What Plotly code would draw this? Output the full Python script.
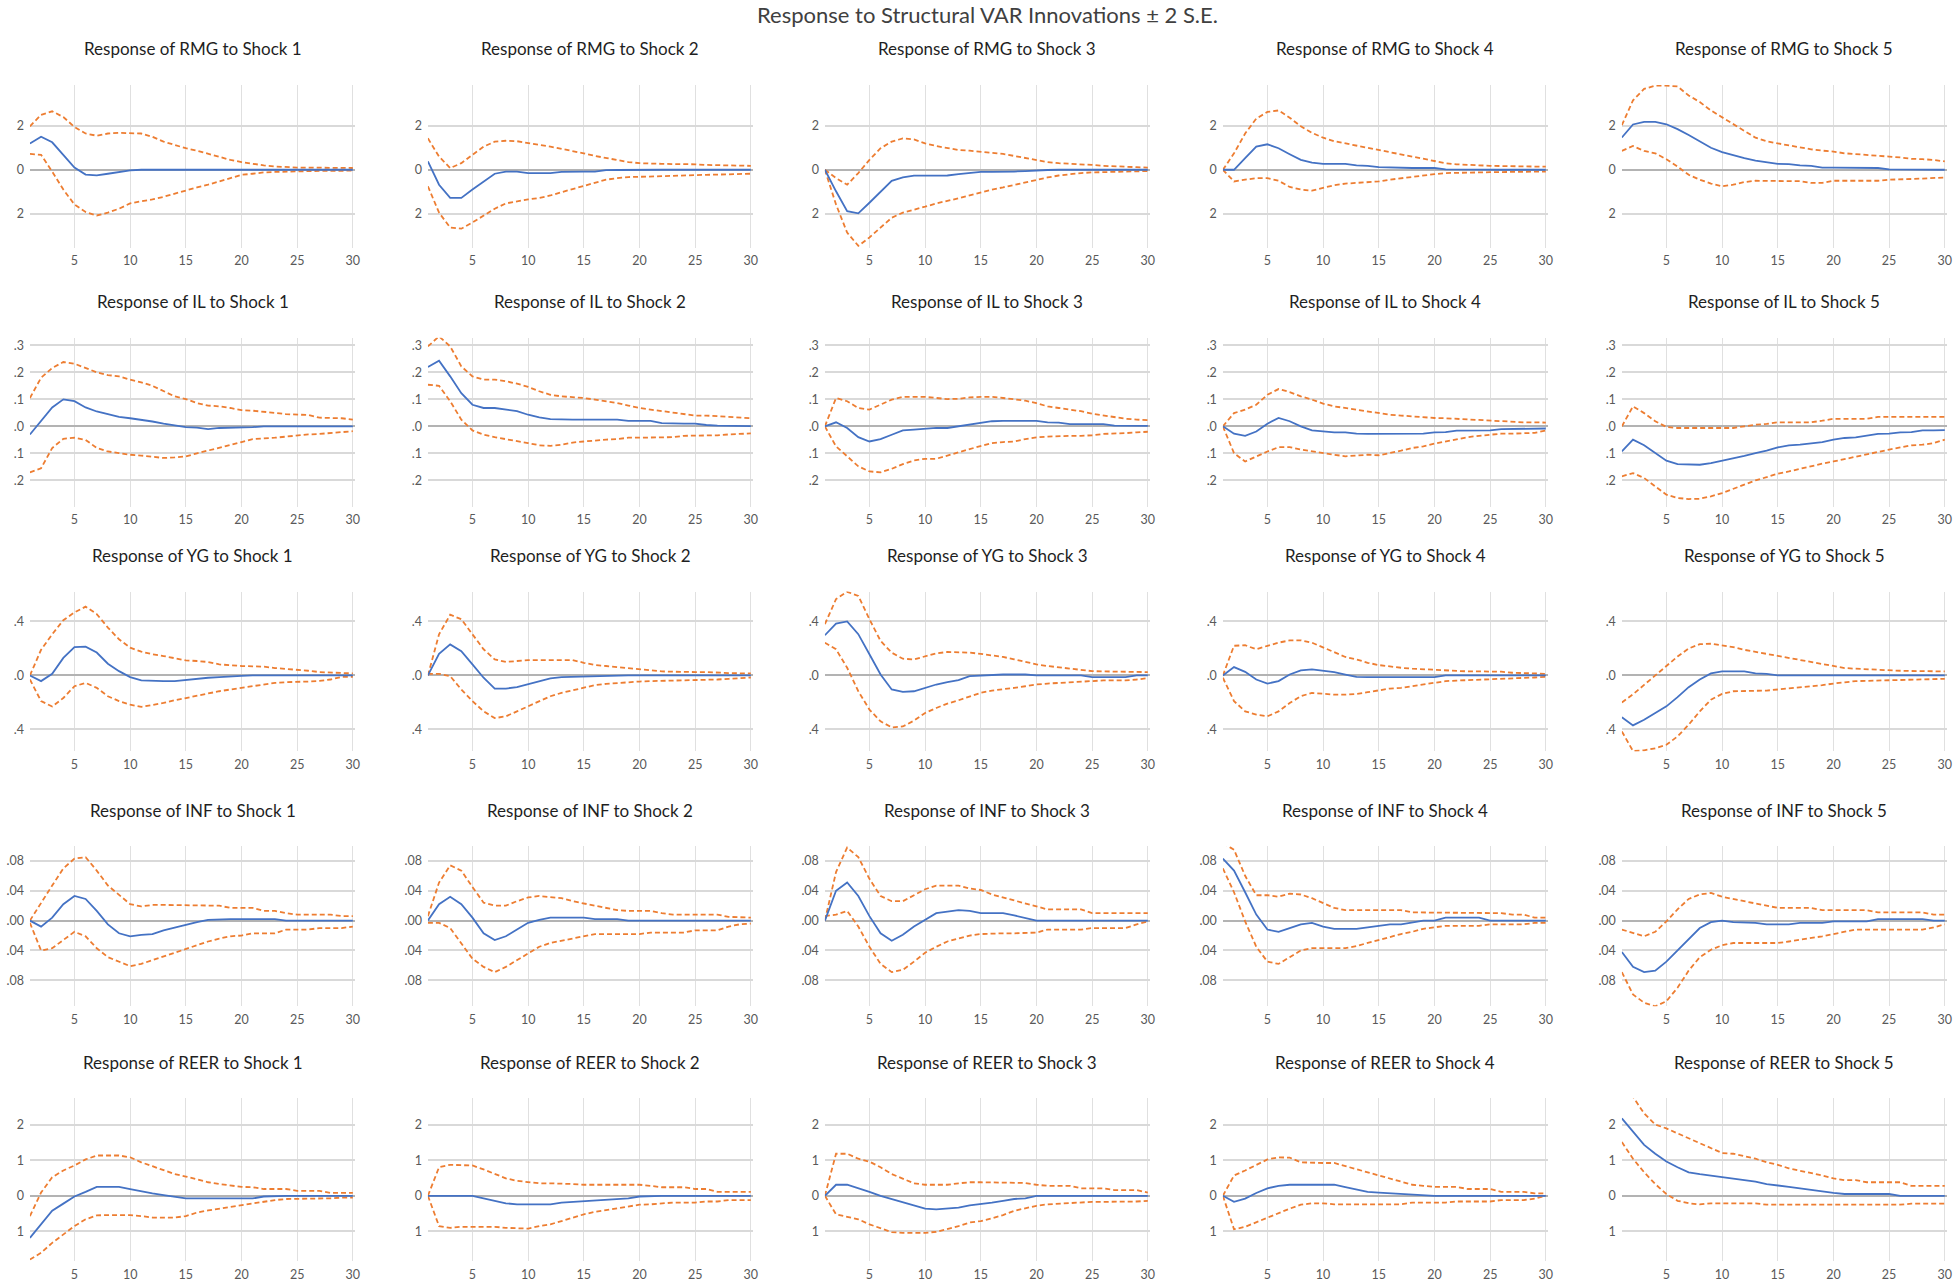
import plotly.graph_objects as go

# ---------------- data (periods 1..30) ----------------
periods = list(range(1, 31))
variables = ["RMG", "IL", "YG", "INF", "REER"]
shocks = [1, 2, 3, 4, 5]

rmg1_irf = [1.2, 1.5, 1.25, 0.65, 0.1, -0.22, -0.25, -0.18, -0.1, -0.03, 0, 0, 0, 0, 0, 0, 0, 0, 0, 0, 0, 0, 0, 0, 0, 0, 0, 0, 0, 0]
rmg1_hi = [1.98, 2.5, 2.66, 2.4, 1.95, 1.65, 1.55, 1.65, 1.68, 1.68, 1.65, 1.5, 1.28, 1.13, 0.98, 0.87, 0.72, 0.6, 0.45, 0.35, 0.26, 0.2, 0.15, 0.12, 0.1, 0.1, 0.1, 0.09, 0.08, 0.08]
rmg1_lo = [0.72, 0.68, -0.08, -0.9, -1.58, -1.92, -2.08, -1.95, -1.77, -1.53, -1.43, -1.35, -1.23, -1.08, -0.93, -0.8, -0.68, -0.53, -0.38, -0.23, -0.18, -0.12, -0.1, -0.08, -0.07, -0.06, -0.05, -0.05, -0.05, -0.04]

rmg2_irf = [0.38, -0.68, -1.28, -1.28, -0.9, -0.53, -0.18, -0.08, -0.08, -0.15, -0.15, -0.15, -0.1, -0.08, -0.08, -0.08, -0.02, -0.01, 0, 0, 0, 0, 0, 0, 0, 0, 0, 0, 0, 0]
rmg2_hi = [1.43, 0.6, 0.08, 0.3, 0.68, 1.05, 1.28, 1.32, 1.3, 1.2, 1.13, 1.05, 0.95, 0.87, 0.75, 0.63, 0.53, 0.42, 0.35, 0.3, 0.27, 0.27, 0.26, 0.26, 0.25, 0.22, 0.2, 0.2, 0.19, 0.18]
rmg2_lo = [-0.75, -1.95, -2.63, -2.68, -2.4, -2.1, -1.77, -1.53, -1.43, -1.35, -1.28, -1.17, -1.02, -0.87, -0.72, -0.57, -0.45, -0.38, -0.33, -0.32, -0.3, -0.28, -0.27, -0.26, -0.25, -0.23, -0.22, -0.2, -0.2, -0.18]

rmg3_irf = [0, -0.98, -1.88, -1.98, -1.5, -0.98, -0.5, -0.35, -0.27, -0.27, -0.26, -0.26, -0.2, -0.15, -0.1, -0.1, -0.1, -0.08, -0.06, -0.02, -0.01, 0, 0, 0, 0, 0, 0, 0, 0, 0]
rmg3_hi = [0, -0.38, -0.68, -0.15, 0.45, 0.98, 1.28, 1.43, 1.38, 1.2, 1.08, 0.98, 0.9, 0.87, 0.83, 0.78, 0.72, 0.63, 0.53, 0.45, 0.35, 0.3, 0.28, 0.25, 0.22, 0.18, 0.15, 0.13, 0.12, 0.1]
rmg3_lo = [0, -1.58, -2.86, -3.46, -3.08, -2.63, -2.18, -1.95, -1.83, -1.68, -1.53, -1.43, -1.3, -1.16, -1.02, -0.9, -0.8, -0.68, -0.56, -0.45, -0.35, -0.26, -0.2, -0.15, -0.12, -0.1, -0.09, -0.08, -0.07, -0.06]

rmg4_irf = [0, 0, 0.53, 1.05, 1.16, 0.98, 0.71, 0.45, 0.33, 0.27, 0.27, 0.27, 0.2, 0.18, 0.12, 0.1, 0.1, 0.08, 0.08, 0.08, 0.02, 0.01, 0, 0, 0, 0, 0, 0, 0, 0]
rmg4_hi = [0, 0.75, 1.65, 2.33, 2.63, 2.7, 2.37, 1.98, 1.68, 1.46, 1.3, 1.2, 1.1, 1.0, 0.9, 0.8, 0.71, 0.6, 0.5, 0.4, 0.3, 0.25, 0.22, 0.2, 0.18, 0.17, 0.16, 0.15, 0.15, 0.14]
rmg4_lo = [0, -0.53, -0.45, -0.38, -0.38, -0.5, -0.78, -0.9, -0.95, -0.83, -0.7, -0.63, -0.6, -0.57, -0.53, -0.45, -0.38, -0.33, -0.27, -0.2, -0.15, -0.13, -0.12, -0.12, -0.11, -0.1, -0.1, -0.09, -0.09, -0.08]

rmg5_irf = [1.47, 2.06, 2.18, 2.18, 2.07, 1.85, 1.58, 1.28, 1.0, 0.8, 0.65, 0.53, 0.42, 0.33, 0.27, 0.26, 0.2, 0.18, 0.1, 0.1, 0.1, 0.09, 0.08, 0.08, 0.02, 0.01, 0, 0, 0, 0]
rmg5_hi = [2.03, 3.16, 3.68, 3.83, 3.83, 3.79, 3.38, 3.08, 2.7, 2.4, 2.1, 1.77, 1.46, 1.3, 1.2, 1.1, 1.0, 0.93, 0.87, 0.83, 0.75, 0.72, 0.69, 0.65, 0.6, 0.56, 0.5, 0.48, 0.45, 0.38]
rmg5_lo = [0.86, 1.08, 0.86, 0.75, 0.48, 0.15, -0.23, -0.45, -0.63, -0.75, -0.68, -0.56, -0.5, -0.5, -0.5, -0.5, -0.52, -0.6, -0.6, -0.5, -0.5, -0.5, -0.5, -0.5, -0.45, -0.45, -0.42, -0.4, -0.38, -0.35]

il1_irf = [-0.03, 0.02, 0.07, 0.1, 0.093, 0.07, 0.055, 0.045, 0.035, 0.03, 0.025, 0.018, 0.01, 0.003, -0.003, -0.005, -0.01, -0.006, -0.005, -0.005, -0.003, 0, 0, 0, 0, 0, 0, 0, 0, 0]
il1_hi = [0.105, 0.18, 0.216, 0.238, 0.232, 0.216, 0.2, 0.19, 0.185, 0.173, 0.163, 0.15, 0.132, 0.111, 0.101, 0.086, 0.077, 0.074, 0.068, 0.06, 0.058, 0.055, 0.05, 0.045, 0.044, 0.042, 0.032, 0.03, 0.03, 0.025]
il1_lo = [-0.17, -0.155, -0.08, -0.046, -0.042, -0.05, -0.08, -0.093, -0.099, -0.105, -0.108, -0.113, -0.117, -0.115, -0.111, -0.1, -0.09, -0.08, -0.07, -0.058, -0.047, -0.045, -0.042, -0.038, -0.033, -0.03, -0.028, -0.025, -0.022, -0.018]

il2_irf = [0.22, 0.243, 0.185, 0.123, 0.08, 0.068, 0.068, 0.062, 0.056, 0.043, 0.033, 0.027, 0.025, 0.025, 0.025, 0.025, 0.025, 0.025, 0.02, 0.02, 0.02, 0.012, 0.01, 0.01, 0.01, 0.005, 0.003, 0.002, 0.001, 0.001]
il2_hi = [0.296, 0.333, 0.296, 0.222, 0.185, 0.173, 0.173, 0.167, 0.158, 0.146, 0.13, 0.117, 0.111, 0.109, 0.105, 0.099, 0.093, 0.086, 0.077, 0.068, 0.062, 0.056, 0.052, 0.045, 0.04, 0.04, 0.038, 0.035, 0.032, 0.03]
il2_lo = [0.154, 0.15, 0.093, 0.025, -0.015, -0.031, -0.04, -0.047, -0.053, -0.062, -0.07, -0.072, -0.068, -0.06, -0.056, -0.052, -0.049, -0.047, -0.042, -0.042, -0.042, -0.042, -0.04, -0.035, -0.035, -0.034, -0.033, -0.03, -0.028, -0.026]

il3_irf = [0, 0.015, -0.006, -0.04, -0.056, -0.047, -0.031, -0.015, -0.012, -0.009, -0.006, -0.006, 0, 0.006, 0.012, 0.019, 0.02, 0.02, 0.02, 0.02, 0.015, 0.014, 0.008, 0.008, 0.008, 0.008, 0.003, 0.002, 0.002, 0.002]
il3_hi = [0, 0.105, 0.093, 0.068, 0.062, 0.08, 0.099, 0.109, 0.109, 0.109, 0.105, 0.101, 0.102, 0.107, 0.109, 0.109, 0.105, 0.099, 0.095, 0.086, 0.074, 0.068, 0.062, 0.056, 0.047, 0.041, 0.035, 0.028, 0.025, 0.023]
il3_lo = [0, -0.074, -0.111, -0.148, -0.167, -0.17, -0.157, -0.14, -0.126, -0.12, -0.12, -0.109, -0.096, -0.084, -0.074, -0.062, -0.058, -0.056, -0.047, -0.041, -0.038, -0.036, -0.035, -0.035, -0.033, -0.028, -0.027, -0.025, -0.022, -0.02]

il4_irf = [0, -0.027, -0.035, -0.019, 0.01, 0.031, 0.019, 0, -0.015, -0.019, -0.022, -0.022, -0.027, -0.028, -0.028, -0.028, -0.028, -0.028, -0.027, -0.022, -0.021, -0.016, -0.016, -0.015, -0.015, -0.01, -0.01, -0.009, -0.009, -0.008]
il4_hi = [0, 0.049, 0.062, 0.08, 0.117, 0.138, 0.127, 0.111, 0.099, 0.084, 0.074, 0.068, 0.062, 0.056, 0.049, 0.043, 0.04, 0.037, 0.032, 0.031, 0.03, 0.028, 0.025, 0.022, 0.02, 0.018, 0.016, 0.015, 0.015, 0.014]
il4_lo = [0, -0.099, -0.13, -0.111, -0.093, -0.077, -0.077, -0.086, -0.093, -0.099, -0.105, -0.111, -0.107, -0.105, -0.107, -0.099, -0.09, -0.08, -0.074, -0.064, -0.056, -0.047, -0.04, -0.035, -0.031, -0.027, -0.027, -0.026, -0.024, -0.015]

il5_irf = [-0.093, -0.049, -0.07, -0.099, -0.127, -0.14, -0.142, -0.142, -0.136, -0.127, -0.12, -0.109, -0.099, -0.09, -0.078, -0.07, -0.068, -0.064, -0.058, -0.049, -0.043, -0.041, -0.035, -0.028, -0.027, -0.022, -0.021, -0.015, -0.015, -0.014]
il5_hi = [0, 0.074, 0.049, 0.019, -0.002, -0.006, -0.006, -0.006, -0.006, -0.006, -0.006, 0, 0.006, 0.009, 0.015, 0.015, 0.015, 0.015, 0.021, 0.028, 0.028, 0.028, 0.028, 0.035, 0.035, 0.035, 0.035, 0.035, 0.035, 0.035]
il5_lo = [-0.185, -0.173, -0.191, -0.222, -0.253, -0.265, -0.269, -0.268, -0.259, -0.247, -0.231, -0.214, -0.2, -0.188, -0.175, -0.167, -0.157, -0.148, -0.138, -0.13, -0.121, -0.111, -0.102, -0.093, -0.086, -0.078, -0.07, -0.068, -0.062, -0.049]

yg1_irf = [0, -0.042, 0.012, 0.13, 0.21, 0.214, 0.17, 0.087, 0.032, -0.012, -0.037, -0.042, -0.042, -0.042, -0.032, -0.027, -0.017, -0.012, -0.005, -0.003, 0, 0, 0, 0, 0, 0, 0, 0, 0, 0]
yg1_hi = [0, 0.19, 0.305, 0.41, 0.467, 0.51, 0.455, 0.355, 0.268, 0.206, 0.176, 0.157, 0.144, 0.127, 0.112, 0.107, 0.1, 0.082, 0.075, 0.07, 0.068, 0.065, 0.055, 0.05, 0.045, 0.035, 0.025, 0.02, 0.02, 0.015]
yg1_lo = [-0.03, -0.19, -0.23, -0.167, -0.08, -0.055, -0.092, -0.154, -0.19, -0.216, -0.233, -0.22, -0.204, -0.184, -0.167, -0.149, -0.131, -0.117, -0.104, -0.092, -0.08, -0.067, -0.055, -0.05, -0.05, -0.045, -0.04, -0.03, -0.01, -0.01]

yg2_irf = [0, 0.16, 0.23, 0.18, 0.082, -0.017, -0.097, -0.097, -0.087, -0.067, -0.042, -0.022, -0.012, -0.01, -0.005, -0.003, 0, 0, 0, 0, 0, 0, 0, 0, 0, 0, 0, 0, 0, 0]
yg2_hi = [0, 0.305, 0.45, 0.417, 0.305, 0.194, 0.119, 0.1, 0.107, 0.114, 0.114, 0.114, 0.114, 0.114, 0.094, 0.077, 0.07, 0.062, 0.052, 0.045, 0.04, 0.03, 0.028, 0.025, 0.025, 0.025, 0.02, 0.018, 0.016, 0.015]
yg2_lo = [0.012, 0.012, -0.005, -0.104, -0.19, -0.266, -0.316, -0.303, -0.266, -0.229, -0.19, -0.154, -0.129, -0.109, -0.092, -0.072, -0.062, -0.055, -0.05, -0.045, -0.042, -0.04, -0.04, -0.04, -0.038, -0.035, -0.03, -0.025, -0.02, -0.015]

yg3_irf = [0.298, 0.385, 0.4, 0.306, 0.157, 0.007, -0.104, -0.122, -0.117, -0.092, -0.067, -0.05, -0.035, -0.005, 0, 0.007, 0.007, 0.007, 0.007, 0, 0, 0, 0, 0, -0.012, -0.012, -0.012, -0.012, 0, 0]
yg3_hi = [0.38, 0.566, 0.62, 0.59, 0.417, 0.256, 0.169, 0.124, 0.119, 0.144, 0.164, 0.174, 0.174, 0.169, 0.16, 0.15, 0.137, 0.12, 0.1, 0.082, 0.07, 0.06, 0.05, 0.04, 0.032, 0.03, 0.03, 0.025, 0.025, 0.025]
yg3_lo = [0.243, 0.194, 0.057, -0.117, -0.253, -0.34, -0.385, -0.378, -0.335, -0.278, -0.241, -0.209, -0.184, -0.159, -0.129, -0.112, -0.104, -0.092, -0.08, -0.067, -0.06, -0.055, -0.05, -0.045, -0.037, -0.037, -0.037, -0.037, -0.03, -0.02]

yg4_irf = [0, 0.062, 0.027, -0.03, -0.06, -0.042, 0.007, 0.037, 0.045, 0.037, 0.025, 0.007, -0.01, -0.012, -0.012, -0.012, -0.012, -0.012, -0.012, -0.012, 0, 0, 0, 0, 0, 0, 0, 0, 0, 0]
yg4_hi = [0, 0.22, 0.224, 0.194, 0.22, 0.243, 0.26, 0.26, 0.243, 0.206, 0.169, 0.137, 0.119, 0.094, 0.077, 0.065, 0.057, 0.05, 0.045, 0.045, 0.04, 0.035, 0.03, 0.03, 0.03, 0.028, 0.02, 0.015, 0.015, 0.012]
yg4_lo = [-0.017, -0.19, -0.266, -0.29, -0.303, -0.266, -0.204, -0.154, -0.129, -0.137, -0.142, -0.142, -0.137, -0.124, -0.112, -0.097, -0.092, -0.08, -0.067, -0.055, -0.042, -0.038, -0.035, -0.032, -0.03, -0.028, -0.025, -0.02, -0.015, -0.01]

yg5_irf = [-0.31, -0.37, -0.328, -0.278, -0.229, -0.161, -0.087, -0.03, 0.015, 0.03, 0.032, 0.03, 0.015, 0.012, 0, 0, 0, 0, 0, 0, 0, 0, 0, 0, 0, 0, 0, 0, 0, 0]
yg5_hi = [-0.2, -0.14, -0.07, 0.0, 0.07, 0.14, 0.2, 0.232, 0.235, 0.225, 0.21, 0.19, 0.175, 0.155, 0.14, 0.125, 0.11, 0.095, 0.08, 0.065, 0.055, 0.05, 0.045, 0.04, 0.035, 0.035, 0.033, 0.032, 0.032, 0.03]
yg5_lo = [-0.415, -0.56, -0.555, -0.54, -0.514, -0.452, -0.365, -0.266, -0.179, -0.137, -0.117, -0.117, -0.112, -0.112, -0.104, -0.097, -0.087, -0.08, -0.072, -0.06, -0.05, -0.042, -0.04, -0.038, -0.035, -0.033, -0.03, -0.028, -0.027, -0.025]

inf1_irf = [0, -0.008, 0.004, 0.022, 0.033, 0.029, 0.013, -0.005, -0.017, -0.021, -0.019, -0.018, -0.013, -0.009, -0.005, -0.002, 0.001, 0.002, 0.002, 0.002, 0.002, 0.002, 0.002, 0, 0, 0, 0, 0, 0, 0]
inf1_hi = [0, 0.024, 0.047, 0.07, 0.083, 0.085, 0.067, 0.047, 0.035, 0.022, 0.019, 0.021, 0.021, 0.021, 0.021, 0.021, 0.021, 0.02, 0.017, 0.017, 0.017, 0.013, 0.013, 0.01, 0.008, 0.008, 0.008, 0.008, 0.006, 0.006]
inf1_lo = [-0.003, -0.04, -0.037, -0.026, -0.015, -0.021, -0.037, -0.049, -0.055, -0.061, -0.058, -0.053, -0.048, -0.043, -0.037, -0.033, -0.028, -0.024, -0.021, -0.02, -0.017, -0.017, -0.017, -0.012, -0.012, -0.012, -0.01, -0.01, -0.01, -0.008]

inf2_irf = [0, 0.022, 0.032, 0.022, 0.004, -0.017, -0.026, -0.021, -0.012, -0.003, 0.001, 0.004, 0.004, 0.004, 0.004, 0.002, 0.002, 0.002, 0, 0, 0, 0, 0, 0, 0, 0, 0, 0, 0, 0]
inf2_hi = [0.006, 0.051, 0.074, 0.067, 0.045, 0.024, 0.02, 0.02, 0.026, 0.031, 0.033, 0.032, 0.03, 0.026, 0.023, 0.02, 0.016, 0.014, 0.013, 0.013, 0.013, 0.01, 0.008, 0.008, 0.008, 0.008, 0.008, 0.005, 0.004, 0.004]
inf2_lo = [-0.003, -0.003, -0.01, -0.03, -0.051, -0.062, -0.069, -0.062, -0.053, -0.044, -0.035, -0.03, -0.027, -0.024, -0.02, -0.018, -0.018, -0.018, -0.018, -0.018, -0.016, -0.016, -0.016, -0.016, -0.013, -0.013, -0.013, -0.008, -0.005, -0.004]

inf3_irf = [0, 0.04, 0.051, 0.033, 0.006, -0.017, -0.027, -0.019, -0.008, 0.001, 0.01, 0.012, 0.014, 0.013, 0.01, 0.01, 0.01, 0.007, 0.004, 0, 0, 0, 0, 0, 0, 0, 0, 0, 0, 0]
inf3_hi = [0, 0.065, 0.098, 0.085, 0.056, 0.033, 0.026, 0.026, 0.034, 0.042, 0.047, 0.047, 0.047, 0.043, 0.041, 0.035, 0.031, 0.026, 0.022, 0.019, 0.015, 0.015, 0.015, 0.015, 0.01, 0.01, 0.01, 0.01, 0.01, 0.01]
inf3_lo = [0.006, 0.008, 0.013, -0.008, -0.035, -0.058, -0.069, -0.066, -0.055, -0.043, -0.035, -0.028, -0.024, -0.02, -0.018, -0.017, -0.017, -0.017, -0.017, -0.016, -0.012, -0.012, -0.012, -0.012, -0.01, -0.01, -0.01, -0.01, -0.005, -0.001]

inf4_irf = [0.083, 0.067, 0.038, 0.008, -0.012, -0.015, -0.01, -0.005, -0.003, -0.008, -0.011, -0.011, -0.011, -0.009, -0.007, -0.005, -0.005, -0.002, 0, 0, 0.004, 0.004, 0.004, 0.004, 0, 0, 0, 0, 0, 0]
inf4_hi = [0.104, 0.095, 0.06, 0.034, 0.034, 0.032, 0.036, 0.035, 0.03, 0.023, 0.017, 0.014, 0.014, 0.014, 0.014, 0.014, 0.014, 0.011, 0.011, 0.011, 0.011, 0.011, 0.01, 0.01, 0.01, 0.01, 0.008, 0.008, 0.004, 0.004]
inf4_lo = [0.07, 0.038, -0.001, -0.035, -0.055, -0.058, -0.049, -0.04, -0.037, -0.037, -0.037, -0.037, -0.034, -0.03, -0.026, -0.021, -0.018, -0.015, -0.011, -0.009, -0.007, -0.007, -0.007, -0.007, -0.005, -0.005, -0.005, -0.005, -0.003, -0.003]

inf5_irf = [-0.042, -0.062, -0.069, -0.067, -0.055, -0.04, -0.024, -0.01, -0.002, 0, -0.002, -0.003, -0.003, -0.005, -0.005, -0.005, -0.003, -0.003, -0.003, -0.001, -0.001, -0.001, -0.001, 0.002, 0.002, 0.002, 0.002, 0.002, 0, 0]
inf5_hi = [-0.012, -0.017, -0.021, -0.015, -0.001, 0.015, 0.029, 0.035, 0.037, 0.032, 0.029, 0.025, 0.023, 0.02, 0.017, 0.017, 0.017, 0.017, 0.014, 0.014, 0.014, 0.014, 0.014, 0.011, 0.011, 0.011, 0.011, 0.011, 0.008, 0.008]
inf5_lo = [-0.069, -0.099, -0.11, -0.115, -0.108, -0.09, -0.067, -0.049, -0.039, -0.033, -0.03, -0.03, -0.03, -0.03, -0.03, -0.028, -0.026, -0.024, -0.021, -0.018, -0.015, -0.012, -0.012, -0.012, -0.012, -0.012, -0.012, -0.012, -0.009, -0.005]

reer1_irf = [-1.18, -0.8, -0.42, -0.22, -0.02, 0.11, 0.25, 0.25, 0.25, 0.19, 0.12, 0.07, 0.02, -0.02, -0.075, -0.075, -0.075, -0.075, -0.075, -0.075, -0.075, -0.02, 0, 0, 0, 0, 0, 0, 0, 0]
reer1_hi = [-0.57, 0.09, 0.52, 0.71, 0.85, 1.02, 1.13, 1.13, 1.13, 1.08, 0.94, 0.83, 0.73, 0.61, 0.54, 0.45, 0.38, 0.33, 0.28, 0.25, 0.24, 0.19, 0.19, 0.19, 0.14, 0.14, 0.14, 0.08, 0.08, 0.08]
reer1_lo = [-1.79, -1.6, -1.32, -1.08, -0.85, -0.66, -0.55, -0.54, -0.54, -0.54, -0.57, -0.61, -0.61, -0.61, -0.57, -0.47, -0.41, -0.36, -0.3, -0.25, -0.21, -0.16, -0.12, -0.09, -0.09, -0.09, -0.07, -0.07, -0.05, -0.05]

reer2_irf = [0, 0, 0, 0, 0, -0.07, -0.14, -0.21, -0.24, -0.24, -0.24, -0.24, -0.19, -0.17, -0.14, -0.12, -0.09, -0.07, -0.07, -0.02, 0, 0, 0, 0, 0, 0, 0, 0, 0, 0]
reer2_hi = [0, 0.8, 0.87, 0.87, 0.85, 0.74, 0.61, 0.49, 0.42, 0.38, 0.35, 0.35, 0.35, 0.33, 0.31, 0.31, 0.31, 0.31, 0.31, 0.31, 0.28, 0.24, 0.24, 0.24, 0.19, 0.19, 0.11, 0.11, 0.11, 0.11]
reer2_lo = [0, -0.85, -0.9, -0.87, -0.87, -0.87, -0.87, -0.9, -0.9, -0.92, -0.85, -0.8, -0.71, -0.61, -0.52, -0.45, -0.4, -0.35, -0.28, -0.25, -0.24, -0.21, -0.19, -0.19, -0.19, -0.16, -0.16, -0.12, -0.12, -0.12]

reer3_irf = [0, 0.31, 0.31, 0.22, 0.11, 0, -0.09, -0.19, -0.28, -0.36, -0.38, -0.36, -0.33, -0.27, -0.24, -0.19, -0.14, -0.09, -0.07, 0, 0, 0, 0, 0, 0, 0, 0, 0, 0, 0]
reer3_hi = [0, 1.18, 1.18, 1.04, 0.96, 0.8, 0.61, 0.47, 0.35, 0.31, 0.31, 0.31, 0.35, 0.38, 0.38, 0.38, 0.36, 0.36, 0.36, 0.31, 0.28, 0.28, 0.28, 0.21, 0.21, 0.21, 0.16, 0.16, 0.16, 0.09]
reer3_lo = [0, -0.52, -0.59, -0.66, -0.8, -0.92, -1.02, -1.04, -1.04, -1.04, -1.01, -0.94, -0.85, -0.75, -0.71, -0.63, -0.54, -0.42, -0.35, -0.28, -0.24, -0.22, -0.19, -0.19, -0.17, -0.17, -0.17, -0.16, -0.16, -0.14]

reer4_irf = [0, -0.17, -0.08, 0.08, 0.21, 0.28, 0.31, 0.31, 0.31, 0.31, 0.31, 0.24, 0.17, 0.11, 0.09, 0.07, 0.05, 0.03, 0, 0, 0, 0, 0, 0, 0, 0, 0, 0, 0, 0]
reer4_hi = [0, 0.57, 0.71, 0.87, 1.02, 1.08, 1.07, 0.94, 0.92, 0.92, 0.92, 0.83, 0.74, 0.66, 0.57, 0.47, 0.4, 0.31, 0.28, 0.25, 0.25, 0.25, 0.19, 0.19, 0.19, 0.11, 0.11, 0.11, 0.07, 0.07]
reer4_lo = [0, -0.94, -0.87, -0.74, -0.61, -0.49, -0.36, -0.25, -0.21, -0.21, -0.24, -0.24, -0.24, -0.25, -0.24, -0.24, -0.24, -0.19, -0.19, -0.19, -0.19, -0.16, -0.16, -0.16, -0.16, -0.12, -0.12, -0.12, -0.08, 0]

reer5_irf = [2.17, 1.79, 1.43, 1.18, 0.96, 0.8, 0.66, 0.61, 0.57, 0.52, 0.49, 0.45, 0.4, 0.33, 0.28, 0.25, 0.21, 0.16, 0.11, 0.08, 0.05, 0.05, 0.05, 0.05, 0.05, 0, 0, 0, 0, 0]
reer5_hi = [2.81, 2.78, 2.31, 2.0, 1.89, 1.75, 1.62, 1.48, 1.32, 1.2, 1.18, 1.11, 1.04, 0.94, 0.87, 0.77, 0.71, 0.63, 0.57, 0.49, 0.44, 0.44, 0.38, 0.38, 0.38, 0.38, 0.28, 0.28, 0.28, 0.28]
reer5_lo = [1.51, 1.04, 0.66, 0.33, 0.05, -0.14, -0.21, -0.24, -0.21, -0.21, -0.21, -0.21, -0.21, -0.25, -0.25, -0.25, -0.25, -0.25, -0.25, -0.25, -0.25, -0.25, -0.25, -0.25, -0.25, -0.25, -0.22, -0.22, -0.22, -0.22]

# y-axis ticks per response variable (labels as printed in the figure)
rmg_ticks = [2, 0, -2]
rmg_ticktext = ["2", "0", "2"]
il_ticks = [0.3, 0.2, 0.1, 0.0, -0.1, -0.2]
il_ticktext = [".3", ".2", ".1", ".0", ".1", ".2"]
yg_ticks = [0.4, 0.0, -0.4]
yg_ticktext = [".4", ".0", ".4"]
inf_ticks = [0.08, 0.04, 0.0, -0.04, -0.08]
inf_ticktext = [".08", ".04", ".00", ".04", ".08"]
reer_ticks = [2, 1, 0, -1]
reer_ticktext = ["2", "1", "0", "1"]
x_ticks = [5, 10, 15, 20, 25, 30]

# ---------------- assemble ----------------
series = {
    "RMG": [(rmg1_irf, rmg1_hi, rmg1_lo), (rmg2_irf, rmg2_hi, rmg2_lo), (rmg3_irf, rmg3_hi, rmg3_lo), (rmg4_irf, rmg4_hi, rmg4_lo), (rmg5_irf, rmg5_hi, rmg5_lo)],
    "IL": [(il1_irf, il1_hi, il1_lo), (il2_irf, il2_hi, il2_lo), (il3_irf, il3_hi, il3_lo), (il4_irf, il4_hi, il4_lo), (il5_irf, il5_hi, il5_lo)],
    "YG": [(yg1_irf, yg1_hi, yg1_lo), (yg2_irf, yg2_hi, yg2_lo), (yg3_irf, yg3_hi, yg3_lo), (yg4_irf, yg4_hi, yg4_lo), (yg5_irf, yg5_hi, yg5_lo)],
    "INF": [(inf1_irf, inf1_hi, inf1_lo), (inf2_irf, inf2_hi, inf2_lo), (inf3_irf, inf3_hi, inf3_lo), (inf4_irf, inf4_hi, inf4_lo), (inf5_irf, inf5_hi, inf5_lo)],
    "REER": [(reer1_irf, reer1_hi, reer1_lo), (reer2_irf, reer2_hi, reer2_lo), (reer3_irf, reer3_hi, reer3_lo), (reer4_irf, reer4_hi, reer4_lo), (reer5_irf, reer5_hi, reer5_lo)],
}
ticks = {
    "RMG": (rmg_ticks, rmg_ticktext, [-3.55, 3.86]),
    "IL": (il_ticks, il_ticktext, [-0.297, 0.328]),
    "YG": (yg_ticks, yg_ticktext, [-0.563, 0.622]),
    "INF": (inf_ticks, inf_ticktext, [-0.1147, 0.0995]),
    "REER": (reer_ticks, reer_ticktext, [-1.83, 2.74]),
}

W, H = 1960, 1282
col_left = [30, 429, 827, 1226, 1626]
col_w = 326
row_top = [85, 338, 592, 847, 1099]
row_bot = [248, 507, 752, 1007, 1262]

FONT = "Lato, 'Open Sans', Arial, sans-serif"
BLUE = "#4472C4"
ORANGE = "#ED7D31"

fig = go.Figure()
layout = dict(
    width=W, height=H,
    margin=dict(l=0, r=0, t=0, b=0),
    paper_bgcolor="white", plot_bgcolor="white",
    showlegend=False,
    font=dict(family=FONT, color="#595959"),
)
annotations = []

k = 0
for r, var in enumerate(variables):
    tv, tt, yr = ticks[var]
    for c, sh in enumerate(shocks):
        k += 1
        xa = "x" if k == 1 else f"x{k}"
        ya = "y" if k == 1 else f"y{k}"
        irf, hi, lo = series[var][c]
        for vals, color, dash in ((hi, ORANGE, "5px,3px"), (lo, ORANGE, "5px,3px"), (irf, BLUE, "solid")):
            fig.add_trace(go.Scatter(
                x=periods, y=vals, mode="lines", xaxis=xa, yaxis=ya,
                line=dict(color=color, width=1.8, dash=dash),
                hoverinfo="skip",
            ))
        left = col_left[c]
        x0, x1 = left / W, (left + col_w) / W
        y0, y1 = 1 - row_bot[r] / H, 1 - row_top[r] / H
        xkey = "xaxis" if k == 1 else f"xaxis{k}"
        ykey = "yaxis" if k == 1 else f"yaxis{k}"
        layout[xkey] = dict(
            domain=[x0, x1], anchor=ya, range=[1, 30.2],
            tickvals=x_ticks, ticktext=[str(v) for v in x_ticks],
            showgrid=True, gridcolor="#e0e0e0", gridwidth=1,
            zeroline=False, showline=False, ticks="",
            tickfont=dict(size=12.5, color="#595959", family=FONT),
            ticklabelstandoff=4, fixedrange=True,
        )
        layout[ykey] = dict(
            domain=[y0, y1], anchor=xa, range=yr,
            tickvals=tv, ticktext=tt,
            showgrid=True, gridcolor="#d9d9d9", gridwidth=1.5,
            zeroline=True, zerolinecolor="#b3b3b3", zerolinewidth=1.8,
            showline=False, ticks="",
            tickfont=dict(size=12.5, color="#595959", family=FONT),
            ticklabelstandoff=5, fixedrange=True,
        )
        annotations.append(dict(
            text=f"Response of {var} to Shock {sh}",
            xref="paper", yref="paper",
            x=(left + 163) / W, y=1 - (row_top[r] - 36) / H,
            xanchor="center", yanchor="middle", showarrow=False,
            font=dict(size=17, color="#1f1f1f", family=FONT),
        ))

annotations.append(dict(
    text="Response to Structural VAR Innovations \u00b1 2 S.E.",
    xref="paper", yref="paper", x=990 / W, y=1 - 15 / H,
    xanchor="center", yanchor="middle", showarrow=False,
    font=dict(size=22, color="#404040", family=FONT),
))
layout["annotations"] = annotations
fig.update_layout(**layout)

fig.write_html(
    "out.html",
    config={"displayModeBar": False},
    post_script="document.body.style.margin='0';document.body.style.padding='0';document.body.style.overflow='hidden';",
)
